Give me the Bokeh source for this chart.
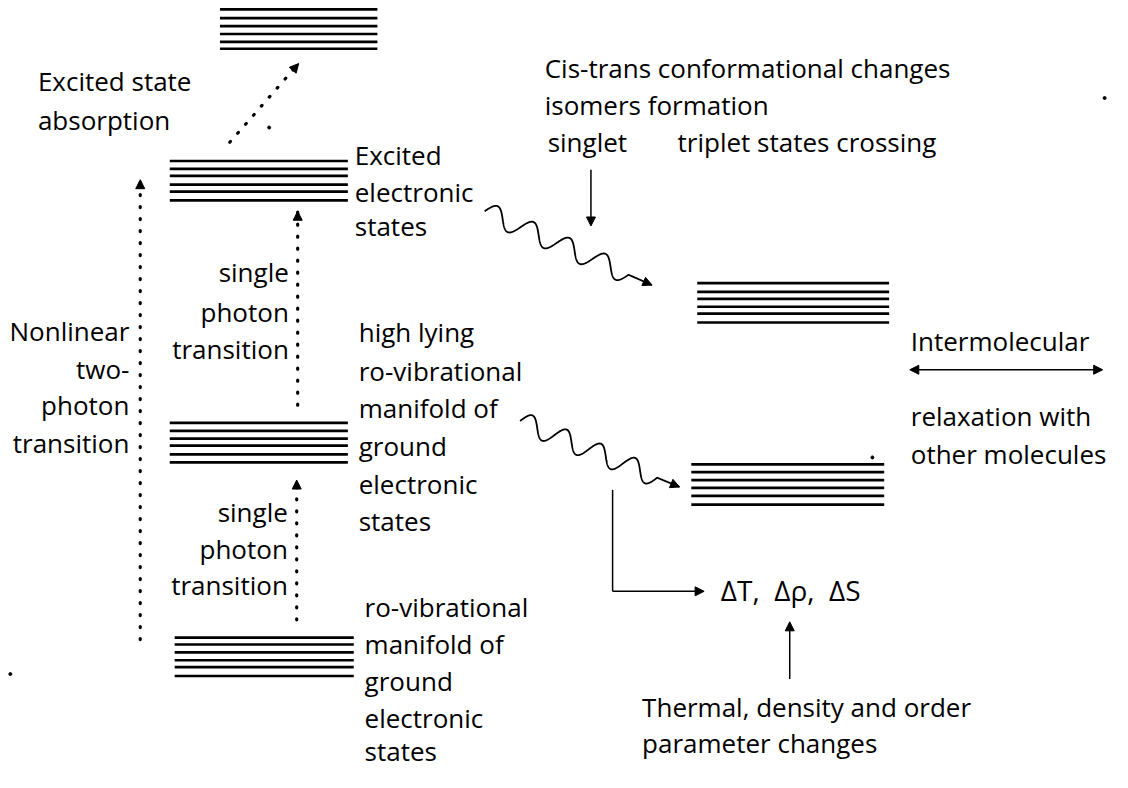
import numpy as np
from bokeh.plotting import figure
from bokeh.models import Range1d, Arrow, NormalHead
from bokeh.core.properties import value
from bokeh.embed import file_html
from bokeh.resources import INLINE

# ---- energy-level stacks (x start, x end, line levels) ----
stack_names = ["upper excited", "excited", "high ground", "ground", "relaxed excited", "relaxed ground"]
stack_x0 = [223, 172, 172, 177, 708, 702]
stack_x1 = [383, 353, 353, 359, 903, 898]
stack_levels = [
    [15, 24, 32, 40, 48, 55],
    [169, 177, 184, 193, 200, 209],
    [435, 443, 451, 458, 467, 475],
    [653, 660, 668, 676, 683, 692],
    [293, 302, 309, 317, 324, 333],
    [477, 485, 493, 501, 509, 518],
]

# ---- labels ----
left_labels = ["Excited state", "absorption",
               "Cis-trans conformational changes", "isomers formation",
               "singlet", "triplet states crossing",
               "Excited", "electronic", "states",
               "high lying", "ro-vibrational", "manifold of", "ground", "electronic", "states",
               "Intermolecular", "relaxation with", "other molecules",
               "ro-vibrational", "manifold of", "ground", "electronic", "states",
               "Thermal, density and order", "parameter changes"]
left_x = [38, 38, 553, 553, 556, 688, 360, 360, 360,
          364, 364, 364, 364, 364, 364, 925, 925, 925,
          370, 370, 370, 370, 370, 652, 652]
left_y = [88, 127, 75, 112, 150, 150, 163, 200, 235,
          343, 382, 420, 458, 497, 535, 352, 428, 467,
          622, 660, 697, 735, 768, 723, 760]

delta_label = ["\u0394T,\u00a0 \u0394\u03c1,\u00a0 \u0394S"]
delta_x = [732]
delta_y = [605]

right_labels = ["single", "photon", "transition",
                "Nonlinear", "two-", "photon", "transition",
                "single", "photon", "transition"]
right_x = [293, 293, 293, 131, 131, 131, 131, 292, 292, 292]
right_y = [282, 322, 360, 342, 380, 417, 455, 525, 563, 600]

# ---- transitions ----
dotted_x0 = [233, 142, 302, 301]
dotted_y0 = [150, 655, 417, 635]
dotted_x1 = [303, 142, 302, 301]
dotted_y1 = [70, 188, 220, 493]

wave_start = [(492, 220), (528, 433)]
wave_end = [(662, 295), (690, 500)]

stray_x = [1122, 886, 273, 10]
stray_y = [105, 470, 135, 690]

FONT = value("Open Sans")
FS = "26px"

p = figure(width=1112, height=772, x_range=Range1d(0, 1130), y_range=Range1d(790, 6),
           output_backend="svg", toolbar_location=None, min_border=0,
           x_axis_type=None, y_axis_type=None)
p.outline_line_color = None
p.grid.visible = False

# stacks
sx0, sx1, sy = [], [], []
for a, b, lv in zip(stack_x0, stack_x1, stack_levels):
    for y in lv:
        sx0.append(a); sx1.append(b); sy.append(y)
p.segment(x0=sx0, y0=sy, x1=sx1, y1=sy, line_color="black", line_width=2.7)

head = lambda: NormalHead(size=9, fill_color="black", line_color="black", line_width=1)

# dotted transitions
p.segment(x0=dotted_x0, y0=dotted_y0, x1=dotted_x1, y1=dotted_y1,
          line_color="black", line_width=3.2, line_dash="1 11", line_cap="round")
for xa, ya, xb, yb in zip(dotted_x0, dotted_y0, dotted_x1, dotted_y1):
    L = np.hypot(xb - xa, yb - ya)
    ux, uy = (xb - xa) / L, (yb - ya) / L
    p.add_layout(Arrow(end=head(), x_start=xb - 6 * ux, y_start=yb - 6 * uy,
                       x_end=xb, y_end=yb, line_alpha=0))

# wavy relaxation arrows
def wave(x0, y0, x1, y1, periods=4, amp=10.0, tail=0.14):
    t = np.linspace(0, 1, 600)
    dx, dy = x1 - x0, y1 - y0
    L = np.hypot(dx, dy)
    ux, uy = dx / L, dy / L
    nx, ny = uy, -ux
    s = np.clip(t / (1 - tail), 0, 1)
    off = amp * np.sin(2 * np.pi * periods * s)
    return x0 + dx * t + nx * off, y0 + dy * t + ny * off

for (xa, ya), (xb, yb) in zip(wave_start, wave_end):
    wx, wy = wave(xa, ya, xb, yb)
    p.line(wx, wy, line_color="black", line_width=1.8)
    p.add_layout(Arrow(end=head(), x_start=wx[-10], y_start=wy[-10], x_end=xb, y_end=yb,
                       line_alpha=0))

thin = dict(line_color="black", line_width=1.5)

# singlet/triplet crossing arrow
p.add_layout(Arrow(end=head(), x_start=600, y_start=178, x_end=600, y_end=235, **thin))
# L-shaped connector to thermal changes
p.line([622, 622], [503, 606], **thin)
p.add_layout(Arrow(end=head(), x_start=622, y_start=606, x_end=715, y_end=606, **thin))
# upward arrow from thermal text
p.add_layout(Arrow(end=head(), x_start=802, y_start=695, x_end=802, y_end=637, **thin))
# intermolecular double arrow
p.add_layout(Arrow(start=head(), end=head(), x_start=924, y_start=381, x_end=1120, y_end=381, **thin))

p.scatter(stray_x, stray_y, size=3, color="black")

p.text(x=left_x, y=left_y, text=left_labels, text_font=FONT, text_font_size=FS,
       text_align="left", text_baseline="middle", text_color="black")
p.text(x=delta_x, y=delta_y, text=delta_label, text_font=FONT, text_font_size="28px",
       text_align="left", text_baseline="middle", text_color="black")
p.text(x=right_x, y=right_y, text=right_labels, text_font=FONT, text_font_size=FS,
       text_align="right", text_baseline="middle", text_color="black")

open("out.html", "w").write(file_html(p, INLINE))
